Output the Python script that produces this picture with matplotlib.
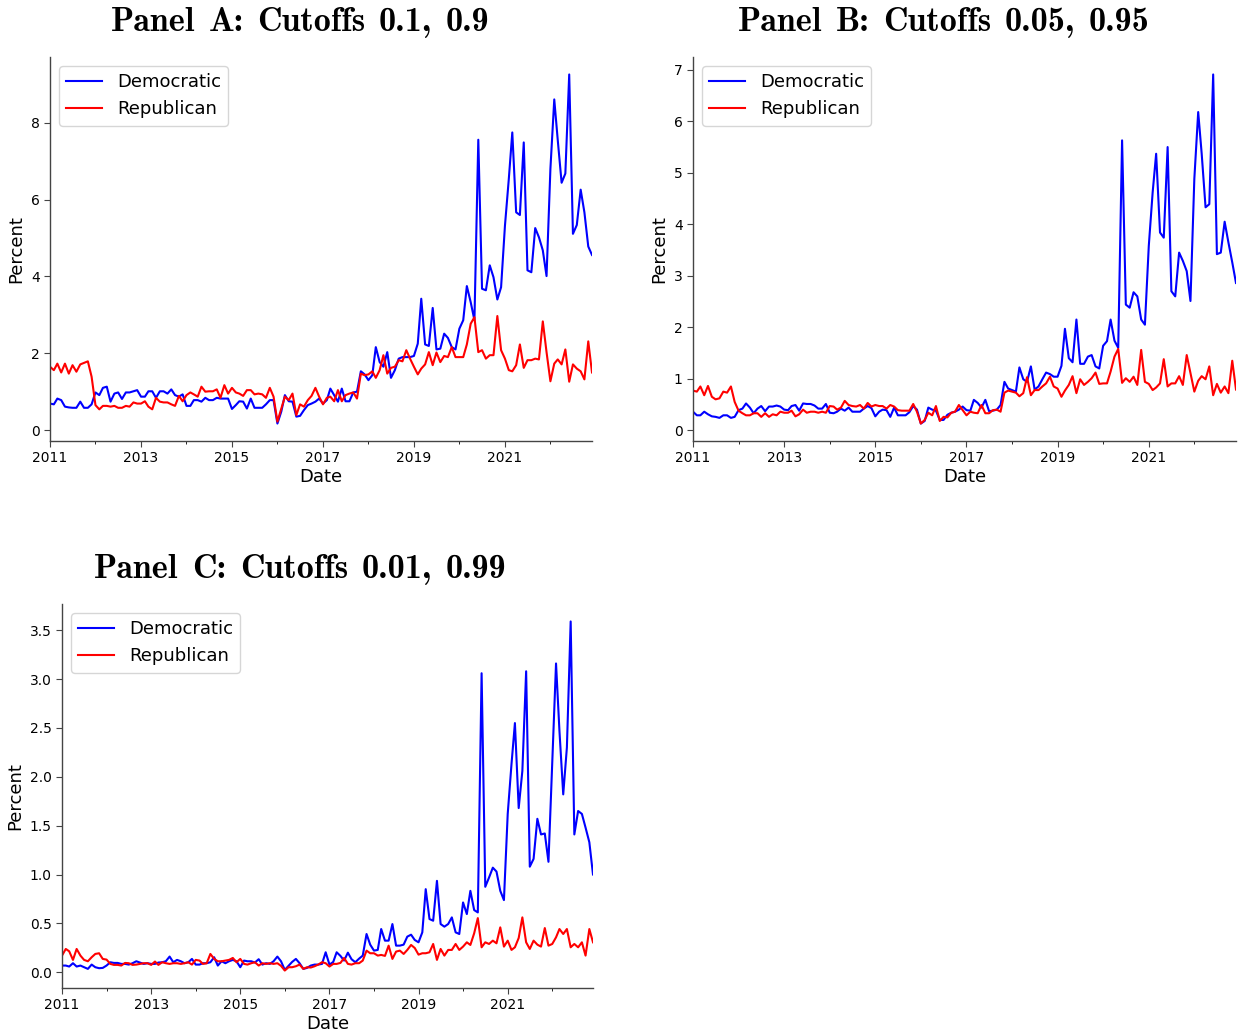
import os
import matplotlib
matplotlib.use("Agg")
import matplotlib.pyplot as plt
from matplotlib.font_manager import FontProperties
import pandas as pd

# Monthly shares (percent), January 2011 through December 2022
dates = pd.date_range("2011-01-01", periods=144, freq="MS")

dem_a = [0.69, 0.67, 0.82, 0.78, 0.61, 0.59, 0.58, 0.58, 0.74, 0.58, 0.58, 0.67,
         0.98, 0.91, 1.10, 1.13, 0.74, 0.95, 0.98, 0.81, 0.98, 0.98, 1.01, 1.04,
         0.87, 0.87, 1.01, 1.01, 0.84, 1.01, 1.01, 0.95, 1.06, 0.91, 0.87, 0.93,
         0.63, 0.63, 0.78, 0.78, 0.74, 0.84, 0.78, 0.78, 0.84, 0.82, 0.82, 0.82,
         0.55, 0.65, 0.75, 0.74, 0.56, 0.82, 0.58, 0.58, 0.58, 0.67, 0.78, 0.78,
         0.17, 0.48, 0.91, 0.75, 0.74, 0.35, 0.37, 0.52, 0.65, 0.69, 0.74, 0.82,
         0.69, 0.78, 1.08, 0.91, 0.74, 1.08, 0.75, 0.75, 0.98, 1.00, 1.53, 1.45,
         1.30, 1.43, 2.16, 1.77, 1.65, 2.03, 1.36, 1.56, 1.86, 1.90, 1.90, 1.90,
         1.93, 2.25, 3.42, 2.23, 2.19, 3.18, 2.10, 2.12, 2.51, 2.40, 2.16, 2.10,
         2.64, 2.86, 3.75, 3.33, 2.86, 7.56, 3.68, 3.64, 4.29, 3.98, 3.40, 3.72,
         5.32, 6.54, 7.75, 5.67, 5.60, 7.49, 4.16, 4.11, 5.26, 5.02, 4.68, 4.01,
         6.80, 8.61, 7.55, 6.44, 6.68, 9.26, 5.11, 5.34, 6.26, 5.67, 4.78, 4.56]

rep_a = [1.65, 1.56, 1.73, 1.50, 1.73, 1.47, 1.69, 1.52, 1.71, 1.75, 1.79, 1.39,
         0.65, 0.54, 0.63, 0.63, 0.61, 0.63, 0.58, 0.58, 0.63, 0.61, 0.72, 0.69,
         0.69, 0.75, 0.61, 0.54, 0.84, 0.74, 0.72, 0.72, 0.67, 0.63, 0.89, 0.75,
         0.91, 0.98, 0.93, 0.87, 1.13, 1.00, 1.01, 1.01, 1.06, 0.84, 1.17, 0.95,
         1.10, 0.98, 0.95, 0.89, 1.04, 1.04, 0.93, 0.95, 0.93, 0.84, 1.10, 0.87,
         0.22, 0.56, 0.87, 0.78, 0.95, 0.39, 0.67, 0.61, 0.78, 0.89, 1.10, 0.87,
         0.67, 0.84, 0.87, 0.75, 1.04, 0.75, 0.91, 0.95, 0.98, 0.82, 1.47, 1.43,
         1.45, 1.53, 1.36, 1.56, 1.95, 1.47, 1.62, 1.65, 1.82, 1.79, 2.08, 1.86,
         1.65, 1.45, 1.60, 1.71, 2.03, 1.69, 2.02, 1.77, 1.93, 1.90, 2.16, 1.90,
         1.90, 1.90, 2.23, 2.77, 2.94, 2.03, 2.08, 1.86, 1.95, 1.95, 2.97, 2.08,
         1.86, 1.56, 1.53, 1.69, 2.23, 1.62, 1.82, 1.82, 1.86, 1.84, 2.83, 2.03,
         1.27, 1.73, 1.84, 1.71, 2.10, 1.26, 1.71, 1.60, 1.53, 1.32, 2.31, 1.50]

dem_b = [0.36, 0.29, 0.29, 0.36, 0.31, 0.27, 0.26, 0.24, 0.29, 0.29, 0.24, 0.26,
         0.39, 0.42, 0.52, 0.44, 0.33, 0.42, 0.47, 0.37, 0.46, 0.46, 0.48, 0.46,
         0.40, 0.39, 0.47, 0.49, 0.38, 0.52, 0.51, 0.51, 0.48, 0.42, 0.42, 0.51,
         0.34, 0.33, 0.36, 0.42, 0.38, 0.44, 0.36, 0.36, 0.36, 0.42, 0.47, 0.43,
         0.27, 0.36, 0.40, 0.39, 0.26, 0.44, 0.29, 0.29, 0.29, 0.35, 0.47, 0.40,
         0.13, 0.18, 0.44, 0.40, 0.38, 0.20, 0.20, 0.30, 0.34, 0.36, 0.40, 0.46,
         0.39, 0.38, 0.59, 0.53, 0.44, 0.59, 0.37, 0.38, 0.40, 0.49, 0.94, 0.81,
         0.78, 0.75, 1.22, 0.99, 0.94, 1.24, 0.79, 0.85, 0.99, 1.12, 1.09, 1.04,
         1.04, 1.25, 1.97, 1.40, 1.32, 2.15, 1.29, 1.29, 1.43, 1.46, 1.24, 1.20,
         1.64, 1.73, 2.15, 1.74, 1.60, 5.63, 2.44, 2.38, 2.68, 2.60, 2.15, 2.05,
         3.58, 4.62, 5.37, 3.84, 3.74, 5.50, 2.70, 2.60, 3.45, 3.29, 3.09, 2.51,
         4.88, 6.18, 5.37, 4.33, 4.39, 6.91, 3.42, 3.45, 4.05, 3.65, 3.26, 2.86]

rep_b = [0.77, 0.75, 0.85, 0.68, 0.86, 0.65, 0.60, 0.62, 0.75, 0.73, 0.85, 0.55,
         0.38, 0.33, 0.29, 0.29, 0.33, 0.33, 0.26, 0.33, 0.26, 0.31, 0.29, 0.36,
         0.34, 0.34, 0.38, 0.27, 0.31, 0.40, 0.34, 0.36, 0.36, 0.34, 0.36, 0.34,
         0.47, 0.46, 0.40, 0.44, 0.57, 0.49, 0.47, 0.46, 0.49, 0.42, 0.53, 0.46,
         0.49, 0.47, 0.47, 0.42, 0.49, 0.46, 0.39, 0.38, 0.38, 0.38, 0.51, 0.36,
         0.13, 0.20, 0.34, 0.29, 0.47, 0.18, 0.26, 0.25, 0.34, 0.36, 0.49, 0.39,
         0.29, 0.36, 0.34, 0.33, 0.49, 0.33, 0.33, 0.39, 0.40, 0.36, 0.73, 0.77,
         0.75, 0.73, 0.66, 0.72, 1.03, 0.68, 0.78, 0.78, 0.85, 0.91, 1.04, 0.85,
         0.81, 0.65, 0.77, 0.88, 1.05, 0.72, 0.99, 0.88, 0.94, 1.01, 1.12, 0.90,
         0.91, 0.91, 1.14, 1.43, 1.58, 0.92, 1.01, 0.94, 1.04, 0.88, 1.56, 0.94,
         0.90, 0.78, 0.83, 0.91, 1.38, 0.85, 0.91, 0.91, 1.05, 0.88, 1.46, 1.11,
         0.75, 0.96, 1.05, 0.99, 1.24, 0.68, 0.90, 0.73, 0.85, 0.72, 1.35, 0.79]

dem_c = [0.068, 0.068, 0.058, 0.092, 0.058, 0.068, 0.051, 0.034, 0.078, 0.051, 0.041, 0.044,
         0.068, 0.102, 0.095, 0.095, 0.085, 0.085, 0.078, 0.092, 0.112, 0.099, 0.085, 0.092,
         0.085, 0.085, 0.099, 0.102, 0.112, 0.160, 0.102, 0.126, 0.112, 0.092, 0.102, 0.136,
         0.078, 0.078, 0.092, 0.092, 0.102, 0.153, 0.068, 0.112, 0.092, 0.112, 0.126, 0.112,
         0.051, 0.119, 0.112, 0.112, 0.099, 0.133, 0.078, 0.092, 0.085, 0.112, 0.160, 0.112,
         0.024, 0.065, 0.105, 0.136, 0.092, 0.034, 0.044, 0.068, 0.078, 0.078, 0.085, 0.204,
         0.078, 0.105, 0.204, 0.167, 0.119, 0.200, 0.133, 0.102, 0.139, 0.170, 0.391, 0.282,
         0.221, 0.228, 0.442, 0.323, 0.323, 0.493, 0.272, 0.272, 0.282, 0.364, 0.384, 0.330,
         0.306, 0.408, 0.850, 0.544, 0.527, 0.935, 0.493, 0.466, 0.493, 0.561, 0.408, 0.391,
         0.714, 0.595, 0.833, 0.636, 0.612, 3.060, 0.874, 0.969, 1.070, 1.030, 0.833, 0.738,
         1.620, 2.130, 2.550, 1.680, 2.060, 3.080, 1.080, 1.160, 1.570, 1.410, 1.420, 1.130,
         2.160, 3.160, 2.470, 1.820, 2.300, 3.590, 1.410, 1.650, 1.620, 1.480, 1.330, 1.000]

rep_c = [0.170, 0.238, 0.214, 0.126, 0.238, 0.170, 0.126, 0.112, 0.153, 0.187, 0.194, 0.136,
         0.129, 0.085, 0.075, 0.075, 0.068, 0.095, 0.092, 0.075, 0.078, 0.085, 0.092, 0.092,
         0.075, 0.109, 0.075, 0.102, 0.092, 0.085, 0.092, 0.092, 0.085, 0.092, 0.102, 0.078,
         0.126, 0.119, 0.085, 0.092, 0.187, 0.136, 0.112, 0.112, 0.119, 0.126, 0.146, 0.102,
         0.136, 0.085, 0.078, 0.092, 0.102, 0.068, 0.092, 0.085, 0.092, 0.085, 0.092, 0.065,
         0.017, 0.051, 0.051, 0.061, 0.078, 0.034, 0.051, 0.048, 0.061, 0.078, 0.102, 0.092,
         0.058, 0.085, 0.085, 0.095, 0.146, 0.085, 0.078, 0.092, 0.092, 0.119, 0.221, 0.194,
         0.194, 0.170, 0.177, 0.167, 0.272, 0.136, 0.211, 0.221, 0.187, 0.228, 0.279, 0.248,
         0.180, 0.194, 0.194, 0.204, 0.289, 0.126, 0.238, 0.170, 0.228, 0.228, 0.289, 0.228,
         0.262, 0.306, 0.279, 0.398, 0.554, 0.255, 0.306, 0.289, 0.323, 0.296, 0.459, 0.262,
         0.323, 0.228, 0.255, 0.350, 0.561, 0.306, 0.238, 0.323, 0.282, 0.262, 0.452, 0.272,
         0.289, 0.357, 0.442, 0.391, 0.442, 0.255, 0.289, 0.255, 0.306, 0.170, 0.442, 0.306]

panel_titles = ["Panel A: Cutoffs 0.1, 0.9",
                "Panel B: Cutoffs 0.05, 0.95",
                "Panel C: Cutoffs 0.01, 0.99"]
series_labels = ["Democratic", "Republican"]
labeled_years = [2011, 2013, 2015, 2017, 2019, 2021]
minor_years = [2012, 2014, 2016, 2018, 2020, 2022]

# Computer Modern bold, shipped with matplotlib
cm_bold = FontProperties(
    fname=os.path.join(matplotlib.get_data_path(), "fonts", "ttf", "cmb10.ttf"),
    size=24.5)

W, H = 1243, 1035
fig = plt.figure(figsize=(W / 100, H / 100), dpi=100)

# (left, right, top, bottom) in pixels, title centre x and baseline y
boxes = [
    (50, 592, 57, 441, 300, 31),
    (693, 1236, 57, 441, 944, 31),
    (62, 593, 604, 988, 300, 578),
]
data = [(dem_a, rep_a), (dem_b, rep_b), (dem_c, rep_c)]


def draw_title(text, cx, baseline):
    # words are placed one by one so the gaps use a plain measured space
    renderer = fig.canvas.get_renderer()
    words = text.split(" ")
    space = cm_bold.get_size_in_points() * 0.40 * 100 / 72
    widths = []
    for w in words:
        t = fig.text(0, 0, w, fontproperties=cm_bold)
        widths.append(t.get_window_extent(renderer).width)
        t.remove()
    total = sum(widths) + space * (len(words) - 1)
    x = cx - total / 2
    for w, wd in zip(words, widths):
        fig.text(x / W, 1 - baseline / H, w, fontproperties=cm_bold,
                 ha="left", va="baseline")
        x += wd + space


for (l, r, t, b, tx, ty), (dem, rep), title in zip(boxes, data, panel_titles):
    ax = fig.add_axes([l / W, 1 - b / H, (r - l) / W, (b - t) / H])
    ax.plot(dates, dem, color="blue", lw=1.5, label=series_labels[0])
    ax.plot(dates, rep, color="red", lw=1.5, label=series_labels[1])
    ax.set_xlim(dates[0], dates[-1])
    ax.set_xticks([pd.Timestamp(f"{y}-01-01") for y in labeled_years])
    ax.set_xticklabels([str(y) for y in labeled_years])
    ax.set_xticks([pd.Timestamp(f"{y}-01-01") for y in minor_years], minor=True)
    ax.tick_params(axis="both", which="major", labelsize=10, length=4)
    ax.tick_params(axis="x", which="minor", length=2)
    for side in ("top", "right"):
        ax.spines[side].set_visible(False)
    for side in ("left", "bottom"):
        ax.spines[side].set_color("#444444")
        ax.spines[side].set_linewidth(1.0)
    ax.tick_params(colors="#444444", labelcolor="black")
    ax.set_xlabel("Date", fontsize=13, labelpad=2)
    ax.set_ylabel("Percent", fontsize=13)
    ax.legend(loc="upper left", fontsize=13)
    draw_title(title, tx, ty)

fig.savefig("out.png", dpi=100)
